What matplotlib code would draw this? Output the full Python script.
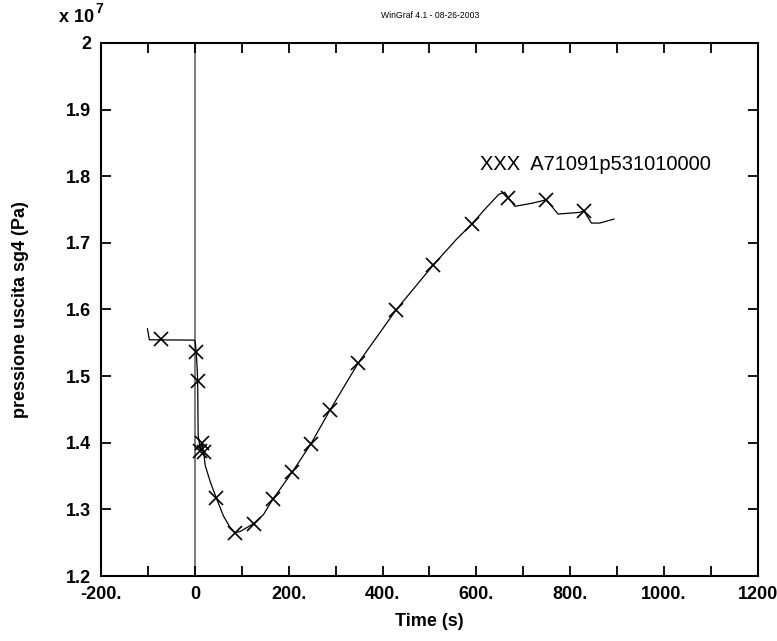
import matplotlib
matplotlib.use("Agg")
import matplotlib.pyplot as plt
from matplotlib.ticker import MultipleLocator, FuncFormatter

plt.rcParams['font.family'] = ['Liberation Sans', 'DejaVu Sans']

# pressure trace (units of 1e7 Pa)
time_s = [-101, -97, -1, 1, 3, 5, 6, 7, 12, 15, 19, 22, 33, 46, 61, 75, 86, 97,
          125, 146, 166, 207, 247, 288, 348, 429, 508, 558, 590, 620, 648,
          660, 668, 682, 721, 749, 774, 820, 829, 845, 863, 893]
pressure = [1.571, 1.5545, 1.554, 1.550, 1.5356, 1.51, 1.493, 1.412, 1.388, 1.400,
            1.3855, 1.366, 1.341, 1.3165, 1.290, 1.273, 1.265, 1.267,
            1.2785, 1.292, 1.315, 1.3555, 1.398, 1.449, 1.5195, 1.5995, 1.6667,
            1.7057, 1.728, 1.752, 1.773, 1.776, 1.768, 1.7548, 1.7598, 1.7647,
            1.7432, 1.7457, 1.748, 1.7297, 1.7297, 1.7357]

# marked samples
mark_t = [-73, 3, 6, 12, 15, 19, 46, 86, 125, 166, 207, 247, 288, 348, 429, 508,
          590, 668, 749, 829]
mark_p = [1.5556, 1.5356, 1.493, 1.388, 1.400, 1.3855, 1.3165, 1.265, 1.2785, 1.315,
          1.3555, 1.398, 1.449, 1.5195, 1.5995, 1.6667, 1.728, 1.768, 1.7647, 1.748]

x_ticks = [-200, 0, 200, 400, 600, 800, 1000, 1200]
x_labels = ["-200.", "0", "200.", "400.", "600.", "800.", "1000.", "1200"]

fig = plt.figure(figsize=(7.77, 6.41), dpi=100)
ax = fig.add_axes([0.130, 0.1014, 0.8455, 0.8316])

ax.axvline(0, color='#808080', lw=1.5, zorder=1)
ax.plot(time_s, pressure, color='black', lw=0.9, zorder=2)
ax.plot(mark_t, mark_p, ls='none', marker='x', ms=10.5, mew=1.2, color='black', zorder=3)

ax.text(607, 1.818, "XXX  A71091p531010000", fontsize=14.5, va='center', ha='left')

ax.set_xlim(-200, 1200)
ax.set_ylim(1.2, 2.0)

ax.xaxis.set_major_locator(MultipleLocator(100))
lab = dict(zip(x_ticks, x_labels))
ax.xaxis.set_major_formatter(FuncFormatter(lambda v, p: lab.get(int(round(v)), "")))
ax.yaxis.set_major_locator(MultipleLocator(0.1))
ax.yaxis.set_major_formatter(FuncFormatter(lambda v, p: "2" if abs(v - 2) < 1e-6 else "%.1f" % v))

ax.tick_params(direction='in', length=7.5, width=1.3, top=True, right=True,
               labelsize=13, pad=7)
for t in ax.get_xticklabels() + ax.get_yticklabels():
    t.set_fontweight('bold')
for s in ax.spines.values():
    s.set_linewidth(1.5)

ax.set_xlabel("Time (s)", fontsize=13, fontweight='bold')
ax.set_ylabel("pressione uscita sg4 (Pa)", fontsize=13, fontweight='bold')
ax.xaxis.set_label_coords(0.5, -0.069)
ax.yaxis.set_label_coords(-0.11, 0.5)

fig.text(94 / 777, 1 - 22 / 641, "x 10", fontsize=13, fontweight='bold', ha='right', va='baseline')
fig.text(95 / 777, 1 - 13 / 641, "7", fontsize=10, fontweight='bold', ha='left', va='baseline')
fig.text(430 / 777, 1 - 16 / 641, "WinGraf 4.1 - 08-26-2003", fontsize=6.2, ha='center', va='center')

fig.savefig("out.png", dpi=100)
